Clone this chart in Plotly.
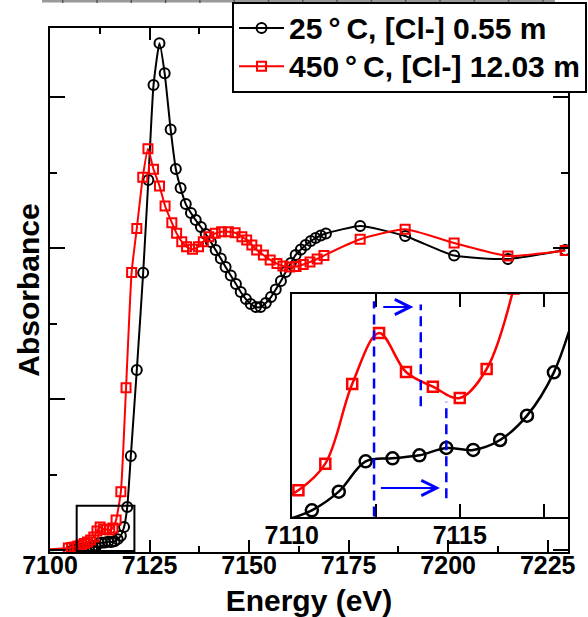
import plotly.graph_objects as go

# ---------------- data (main panel) ----------------
black_energy = [7095.0, 7105.8, 7106.6, 7107.4, 7108.2, 7109.0, 7109.8, 7110.6, 7111.4, 7112.2,
                7113.0, 7113.8, 7114.6, 7115.4, 7116.2, 7117.0, 7117.8, 7118.6, 7119.4, 7120.3,
                7121.8, 7123.4, 7124.7, 7126.0, 7127.5, 7128.8, 7130.3, 7131.6, 7132.8, 7134.1,
                7135.4, 7136.6, 7137.9, 7139.1, 7140.4, 7141.6, 7142.9, 7144.1, 7145.4, 7146.7,
                7147.9, 7149.2, 7150.4, 7151.7, 7152.9, 7154.2, 7155.5, 7156.7, 7158.0, 7159.2,
                7160.5, 7161.7, 7163.0, 7164.2, 7165.5, 7166.7, 7168.0, 7169.3, 7177.9, 7189.2,
                7201.5, 7215.0, 7229.4]
black_abs = [-0.007, 0.003, 0.005, 0.007, 0.009, 0.012, 0.015, 0.020, 0.030, 0.046,
             0.048, 0.050, 0.054, 0.053, 0.058, 0.072, 0.095, 0.152, 0.285, 0.623,
             1.192, 1.836, 2.450, 3.079, 3.356, 3.157, 2.785, 2.523, 2.397, 2.291,
             2.232, 2.185, 2.139, 2.093, 2.040, 1.987, 1.930, 1.874, 1.818, 1.762,
             1.709, 1.662, 1.629, 1.609, 1.609, 1.636, 1.675, 1.725, 1.781, 1.841,
             1.901, 1.954, 1.990, 2.020, 2.046, 2.066, 2.083, 2.096, 2.146, 2.079,
             1.950, 1.927, 1.987]

red_energy = [7095.0, 7104.6, 7105.4, 7106.2, 7107.0, 7107.8, 7108.6, 7109.4, 7110.2, 7111.0,
              7111.8, 7112.6, 7113.4, 7114.2, 7115.0, 7115.8, 7116.6, 7117.8, 7119.1, 7120.5,
              7121.8, 7123.3, 7124.6, 7126.0, 7127.5, 7128.9, 7130.6, 7131.8, 7133.1, 7134.3,
              7135.8, 7137.3, 7138.5, 7139.9, 7141.5, 7143.1, 7144.8, 7146.5, 7148.2, 7149.4,
              7150.7, 7151.9, 7153.6, 7155.3, 7157.0, 7158.5, 7160.2, 7161.8, 7163.6, 7165.3,
              7167.1, 7168.8, 7177.9, 7189.2, 7201.5, 7215.0, 7229.4]
red_abs = [-0.003, 0.013, 0.017, 0.020, 0.026, 0.033, 0.043, 0.053, 0.066, 0.086,
           0.126, 0.152, 0.139, 0.136, 0.132, 0.146, 0.199, 0.386, 1.075, 1.838,
           2.130, 2.468, 2.657, 2.521, 2.411, 2.278, 2.168, 2.097, 2.042, 2.009,
           1.991, 2.009, 2.042, 2.075, 2.097, 2.108, 2.108, 2.101, 2.075, 2.053,
           2.020, 1.987, 1.954, 1.921, 1.897, 1.881, 1.874, 1.877, 1.891, 1.907,
           1.927, 1.950, 2.058, 2.124, 2.033, 1.947, 1.983]

# ---------------- data (inset, pre-edge zoom) ----------------
inset_black_energy = [7109.8, 7110.6, 7111.4, 7112.2, 7113.0, 7113.8, 7114.6, 7115.4, 7116.2,
                      7117.0, 7117.8, 7118.6]
inset_black_abs = [0.40, 0.531, 0.776, 1.175, 1.215, 1.254, 1.351, 1.325, 1.456,
                   1.776, 2.346, 3.40]
inset_red_energy = [7109.4, 7110.2, 7111.0, 7111.8, 7112.6, 7113.4, 7114.2, 7115.0, 7115.8, 7116.6]
inset_red_abs = [0.62, 0.794, 1.145, 2.193, 2.864, 2.351, 2.158, 2.009, 2.390, 3.45]

series_names = ["25\u2009°\u2009C, [Cl-] 0.55 m", "450\u2009°\u2009C, [Cl-] 12.03 m"]
main_ticks = [7100, 7125, 7150, 7175, 7200, 7225]
inset_tickvals = [7110, 7112.5, 7115, 7117.5]
inset_ticktext = ["7110", "", "7115", ""]

FONT = "Liberation Sans, Arial, Helvetica, sans-serif"
BLUE = "#0000ff"
RED = "#ff0000"


def legend_label(s):
    return '<span style="font-size:30px">' + s + "</span>"


fig = go.Figure()

fig.add_trace(go.Scatter(
    x=black_energy, y=black_abs, name=legend_label(series_names[0]), mode="lines+markers",
    line=dict(color="black", width=2, shape="spline", smoothing=0.5),
    marker=dict(symbol="circle-open", size=10, color="black", line=dict(width=2, color="black")),
    xaxis="x", yaxis="y"))
fig.add_trace(go.Scatter(
    x=red_energy, y=red_abs, name=legend_label(series_names[1]), mode="lines+markers",
    line=dict(color=RED, width=2, shape="spline", smoothing=0.5),
    marker=dict(symbol="square-open", size=9, color=RED, line=dict(width=2, color=RED)),
    xaxis="x", yaxis="y"))

# inset traces
fig.add_trace(go.Scatter(
    x=inset_black_energy, y=inset_black_abs, mode="lines+markers", showlegend=False,
    line=dict(color="black", width=2.5, shape="spline", smoothing=1),
    marker=dict(symbol="circle-open", size=12, color="black", line=dict(width=2.5, color="black")),
    xaxis="x2", yaxis="y2"))
fig.add_trace(go.Scatter(
    x=inset_red_energy, y=inset_red_abs, mode="lines+markers", showlegend=False,
    line=dict(color=RED, width=2.5, shape="spline", smoothing=1),
    marker=dict(symbol="square-open", size=10, color=RED, line=dict(width=2.5, color=RED)),
    xaxis="x2", yaxis="y2"))

tickfont = dict(family=FONT, size=25, color="black", weight="bold")

fig.update_layout(
    width=588, height=617,
    margin=dict(l=50, r=20, t=28, b=65, autoexpand=False),
    paper_bgcolor="white", plot_bgcolor="white",
    font=dict(family=FONT, color="black"),
    showlegend=True,
    legend=dict(x=0.3514, y=1.0496, xanchor="left", yanchor="top",
                bgcolor="white", bordercolor="black", borderwidth=2,
                font=dict(family=FONT, size=27, color="black", weight="bold"),
                itemwidth=45, tracegroupgap=0),
    xaxis=dict(domain=[0, 1], range=[7100, 7230.1], tickvals=main_ticks,
               ticks="inside", ticklen=12, tickwidth=2, tickcolor="black",
               minor=dict(dtick=12.5, tick0=7100, ticks="inside", ticklen=6, tickwidth=2, tickcolor="black"),
               showline=True, linewidth=2, linecolor="black", mirror="ticks",
               showgrid=False, zeroline=False, tickfont=tickfont, ticklabelstandoff=-10,
               title=dict(text="Energy (eV)", standoff=14,
                          font=dict(family=FONT, size=30, color="black", weight="bold")),
               anchor="y", automargin=False),
    yaxis=dict(domain=[0, 1], range=[-0.0132, 3.457], tick0=0, dtick=1,
               ticks="inside", ticklen=15, tickwidth=2, tickcolor="black",
               minor=dict(dtick=0.5, tick0=0, ticks="inside", ticklen=7, tickwidth=2, tickcolor="black"),
               showline=True, linewidth=2, linecolor="black", mirror="ticks",
               showgrid=False, zeroline=False, showticklabels=False,
               title=dict(text="Absorbance", standoff=0,
                          font=dict(family=FONT, size=30, color="black", weight="bold")),
               anchor="x", automargin=False),
    xaxis2=dict(domain=[0.4666, 1.0], range=[7110.0, 7118.22], anchor="y2",
                tickvals=inset_tickvals, ticktext=inset_ticktext,
                ticks="inside", ticklen=13, tickwidth=2, tickcolor="black",
                showline=True, linewidth=2, linecolor="black", mirror="ticks",
                showgrid=False, zeroline=False, tickfont=tickfont, ticklabelstandoff=-5,
                automargin=False),
    yaxis2=dict(domain=[0.0668, 0.4924], range=[0.443, 3.377], anchor="x2",
                ticks="", showticklabels=False,
                showline=True, linewidth=2, linecolor="black", mirror=True,
                showgrid=False, zeroline=False, automargin=False),
)

# zoom box in main panel
fig.add_shape(type="rect", xref="x", yref="y", x0=7106.7, x1=7121.2, y0=-0.007, y1=0.293,
              line=dict(color="black", width=2), fillcolor="rgba(0,0,0,0)")

# dashed guide lines in inset
for xv, y0, y1 in [(7112.45, 0.45, 3.28), (7113.84, 1.90, 3.24), (7114.60, 0.69, 1.96)]:
    fig.add_shape(type="line", xref="x2", yref="y2", x0=xv, x1=xv, y0=y0, y1=y1,
                  line=dict(color=BLUE, width=2.5, dash="10px,6px"))

# arrows in inset
for xt, xh, yv in [(7112.68, 7113.62, 3.206), (7112.61, 7114.41, 0.825)]:
    fig.add_annotation(x=xh, y=yv, ax=xt, ay=yv, xref="x2", yref="y2", axref="x2", ayref="y2",
                       text="", showarrow=True, arrowhead=5, arrowsize=1.5, arrowwidth=2,
                       arrowcolor=BLUE, standoff=0, startstandoff=0)

# clipped remnant of the figure above (thin bar at the very top)
fig.add_shape(type="line", xref="paper", yref="paper", x0=(42 - 50) / 518, x1=(555 - 50) / 518,
              y0=(552 - 1) / 524, y1=(552 - 1) / 524, line=dict(color="#9a9a9a", width=3))
for k in range(15):
    px = 62.7 + 34.3 * k
    fig.add_shape(type="line", xref="paper", yref="paper", x0=(px - 50) / 518, x1=(px - 50) / 518,
                  y0=(552 - 3) / 524, y1=(552 + 2) / 524, line=dict(color="#555555", width=1.5))

# remove the browser's default page margin so the figure sits at the window origin
fig.write_html("out.html", config={"displayModeBar": False},
               post_script="document.body.style.margin='0';")
